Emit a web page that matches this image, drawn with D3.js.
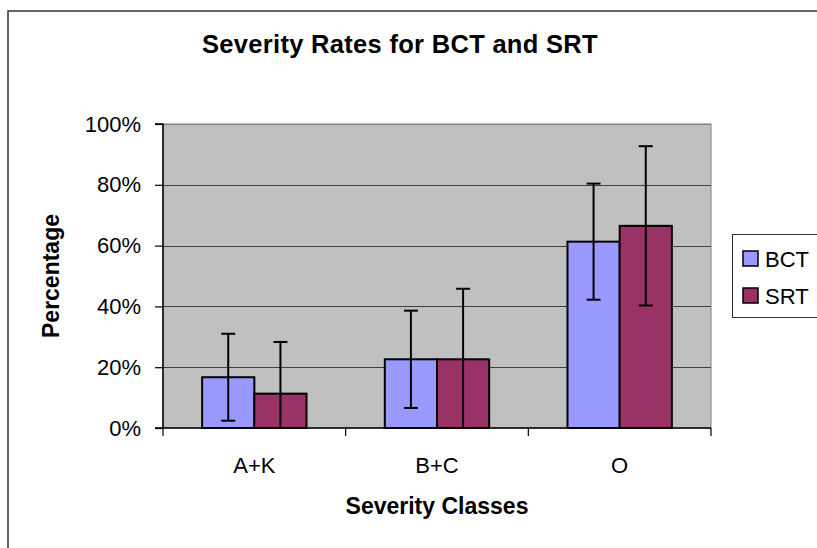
<!DOCTYPE html>
<html>
<head>
<meta charset="utf-8">
<script src="https://cdn.jsdelivr.net/npm/d3@7/dist/d3.min.js"></script>
<style>
  html, body { margin: 0; padding: 0; background: #fff; }
  text { font-family: Arial, "Liberation Sans", sans-serif; }
</style>
</head>
<body>
<script>
const categories = ["A+K", "B+C", "O"];
const seriesNames = ["BCT", "SRT"];
const bctValues = [0.167, 0.226, 0.613];
const srtValues = [0.113, 0.226, 0.665];
const bctErrors = [0.143, 0.160, 0.191];
const srtErrors = [0.170, 0.232, 0.262];
const yTicks = [0, 0.2, 0.4, 0.6, 0.8, 1.0];
const colors = { BCT: "#9999FF", SRT: "#993366" };

const W = 817, H = 548;
const svg = d3.select("body").append("svg").attr("width", W).attr("height", H);

// chart border
svg.append("rect").attr("x", 8).attr("y", 11).attr("width", W + 10).attr("height", H + 10)
  .attr("fill", "#fff").attr("stroke", "#333").attr("stroke-width", 1.5);

const plot = { left: 163, right: 711, top: 124, bottom: 428 };

const y = d3.scaleLinear().domain([0, 1]).range([plot.bottom, plot.top]);
const x0 = d3.scaleBand().domain(categories).range([plot.left, plot.right]).padding(0);
const groupFrac = 2 / (2 + 1.5);
const x1 = d3.scaleBand().domain(seriesNames).range([0, x0.bandwidth() * groupFrac]).padding(0);
const groupOffset = (x0.bandwidth() - x0.bandwidth() * groupFrac) / 2;

// plot background
svg.append("rect").attr("x", plot.left).attr("y", plot.top)
  .attr("width", plot.right - plot.left).attr("height", plot.bottom - plot.top)
  .attr("fill", "#C0C0C0").attr("stroke", "#808080").attr("stroke-width", 1);

// gridlines
svg.append("g").selectAll("line").data(yTicks.filter(t => t > 0)).join("line")
  .attr("x1", plot.left).attr("x2", plot.right)
  .attr("y1", d => Math.round(y(d)) + 0.5).attr("y2", d => Math.round(y(d)) + 0.5)
  .attr("stroke", d => d === 1 ? "#808080" : "#404040").attr("stroke-width", 1);

svg.append("defs").append("clipPath").attr("id", "clip")
  .append("rect").attr("x", plot.left).attr("y", plot.top)
  .attr("width", plot.right - plot.left).attr("height", plot.bottom - plot.top);

const data = [];
categories.forEach((c, i) => {
  data.push({ cat: c, s: "BCT", v: bctValues[i], e: bctErrors[i] });
  data.push({ cat: c, s: "SRT", v: srtValues[i], e: srtErrors[i] });
});

const bx = d => x0(d.cat) + groupOffset + x1(d.s);

svg.append("g").selectAll("rect").data(data).join("rect")
  .attr("x", bx).attr("y", d => y(d.v))
  .attr("width", x1.bandwidth()).attr("height", d => y(0) - y(d.v))
  .attr("fill", d => colors[d.s]).attr("stroke", "#000").attr("stroke-width", 2);

// error bars
const eg = svg.append("g").attr("clip-path", "url(#clip)");
const capW = 7;
data.forEach(d => {
  const cx = bx(d) + x1.bandwidth() / 2;
  eg.append("line").attr("x1", cx).attr("x2", cx)
    .attr("y1", y(d.v + d.e)).attr("y2", y(d.v - d.e))
    .attr("stroke", "#000").attr("stroke-width", 2);
  [d.v + d.e, d.v - d.e].forEach(v => {
    eg.append("line").attr("x1", cx - capW).attr("x2", cx + capW)
      .attr("y1", y(v)).attr("y2", y(v))
      .attr("stroke", "#000").attr("stroke-width", 2);
  });
});

// y axis
const yAxis = d3.axisLeft(y).tickValues(yTicks).tickFormat(d3.format(".0%")).tickSize(8).tickPadding(14);
const ya = svg.append("g").attr("transform", `translate(${plot.left},0)`).call(yAxis);
ya.select(".domain").attr("stroke", "#000").attr("stroke-width", 1.5).attr("d", `M-8,${plot.top}H0V${plot.bottom}`);
ya.selectAll(".tick line").attr("stroke", "#000").attr("stroke-width", 1.2);
ya.selectAll(".tick text").attr("font-size", 22).attr("fill", "#000")
  .attr("font-family", "Arial, 'Liberation Sans', sans-serif");

// x axis
const xa = svg.append("g").attr("transform", `translate(0,${plot.bottom})`);
xa.append("line").attr("x1", plot.left - 8).attr("x2", plot.right).attr("y1", 0).attr("y2", 0)
  .attr("stroke", "#000").attr("stroke-width", 1.5);
const boundaries = categories.map(c => x0(c)).concat([x0(categories[categories.length - 1]) + x0.bandwidth()]);
xa.selectAll("line.tk").data(boundaries).join("line").attr("class", "tk")
  .attr("x1", d => d).attr("x2", d => d).attr("y1", 0).attr("y2", 8)
  .attr("stroke", "#000").attr("stroke-width", 1.2);
xa.selectAll("text").data(categories).join("text")
  .attr("x", d => x0(d) + x0.bandwidth() / 2).attr("y", 45)
  .attr("text-anchor", "middle").attr("font-size", 22).attr("fill", "#000").text(d => d);

// titles
svg.append("text").attr("x", 400).attr("y", 53).attr("text-anchor", "middle")
  .attr("font-size", 25.5).attr("font-weight", "bold").attr("letter-spacing", 0.3)
  .text("Severity Rates for BCT and SRT");
svg.append("text").attr("x", (plot.left + plot.right) / 2).attr("y", 514).attr("text-anchor", "middle")
  .attr("font-size", 23).attr("font-weight", "bold").text("Severity Classes");
svg.append("text").attr("transform", `translate(58.5,${(plot.top + plot.bottom) / 2}) rotate(-90)`)
  .attr("text-anchor", "middle").attr("font-size", 23).attr("font-weight", "bold").text("Percentage");

// legend
const lg = svg.append("g");
lg.append("rect").attr("x", 732.5).attr("y", 234.5).attr("width", 100).attr("height", 83)
  .attr("fill", "#fff").attr("stroke", "#333").attr("stroke-width", 1);
seriesNames.forEach((s, i) => {
  const yy = 251 + i * 37;
  lg.append("rect").attr("x", 743).attr("y", yy).attr("width", 15).attr("height", 15)
    .attr("fill", colors[s]).attr("stroke", "#000").attr("stroke-width", 1.5);
  lg.append("text").attr("x", 765).attr("y", yy + 15.5).attr("font-size", 22).attr("fill", "#000").text(s);
});
</script>
</body>
</html>
